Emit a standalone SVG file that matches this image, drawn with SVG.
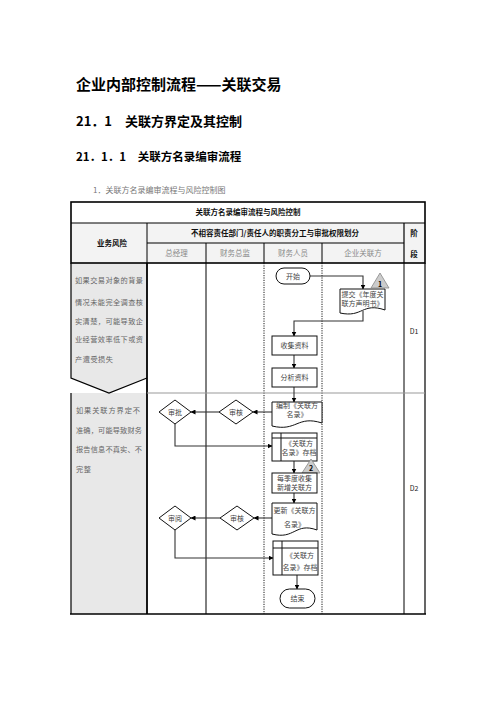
<svg xmlns="http://www.w3.org/2000/svg" width="496" height="702" viewBox="0 0 496 702">
<style>
text{font-family:"Noto Sans CJK SC","Liberation Sans",sans-serif;}
.h1{font-size:15px;font-weight:bold;fill:#000}
.h2{font-size:13px;font-weight:bold;fill:#000}
.h3{font-size:11.5px;font-weight:bold;fill:#000}
.cap{font-size:8px;fill:#777}
.th{font-size:7.5px;font-weight:bold;fill:#111;text-anchor:middle}
.tg{font-size:7.5px;fill:#888;text-anchor:middle}
.risk{font-size:7.2px;fill:#666}
.t{font-size:7px;fill:#444;text-anchor:middle}
.stage{font-size:7px;fill:#222;text-anchor:middle}
.box{fill:#fff;stroke:#111;stroke-width:1}
.dia{fill:#fff;stroke:#111;stroke-width:1}
.tri{fill:#ccc;stroke:#888;stroke-width:0.8}
.grid{stroke:#000;fill:none}
.conn{fill:none;stroke:#333;stroke-width:1.1}
</style>
<defs>
<marker id="ar" viewBox="0 0 10 10" refX="9" refY="5" markerWidth="5" markerHeight="5" orient="auto" markerUnits="userSpaceOnUse">
<path d="M0,0 L10,5 L0,10 Z" fill="#000"/>
</marker>
</defs>
<rect width="496" height="702" fill="#fff"/>

<g id="titles">
<text class="h1" x="76" y="90">企业内部控制流程——关联交易</text>
<text class="h2" x="76" y="126">21．1　关联方界定及其控制</text>
<text class="h3" x="76" y="161">21．1．1　关联方名录编审流程</text>
<text class="cap" x="93" y="193">1．关联方名录编审流程与风险控制图</text>
</g>

<g id="table">
<rect x="147" y="223" width="257" height="40" fill="#f3f3f3"/>
<rect x="71" y="223" width="76" height="40" fill="#f3f3f3"/>
<rect x="404" y="223" width="21" height="40" fill="#f3f3f3"/>
<polygon points="71,263 147,263 147,378 109,393 71,378" fill="#e8e8e8"/>
<rect x="71" y="393" width="76" height="221" fill="#e8e8e8"/>
<rect x="71" y="202" width="354" height="61" class="grid" stroke-width="1.6"/>
<line x1="71" y1="223" x2="425" y2="223" class="grid" stroke-width="1.2"/>
<line x1="147" y1="243" x2="404" y2="243" class="grid" stroke-width="1.2"/>
<line x1="147" y1="223" x2="147" y2="263" class="grid"/>
<line x1="404" y1="223" x2="404" y2="263" class="grid" stroke-width="1.2"/>
<line x1="206" y1="243" x2="206" y2="263" class="grid"/>
<line x1="264" y1="243" x2="264" y2="263" class="grid"/>
<line x1="322" y1="243" x2="322" y2="263" class="grid"/>
<polyline points="71,263 71,378 109,393 147,378" class="grid" stroke-width="1.2"/>
<line x1="71" y1="393" x2="71" y2="614" class="grid" stroke-width="1.2"/>
<line x1="147" y1="263" x2="147" y2="614" class="grid" stroke-width="1.8"/>
<line x1="206" y1="263" x2="206" y2="614" class="grid"/>
<line x1="264" y1="263" x2="264" y2="614" stroke="#000" stroke-width="0.9" stroke-dasharray="1.2,1.2"/>
<line x1="322" y1="263" x2="322" y2="614" stroke="#000" stroke-width="0.9" stroke-dasharray="1.2,1.2"/>
<line x1="404" y1="263" x2="404" y2="614" class="grid"/>
<line x1="425" y1="263" x2="425" y2="614" class="grid" stroke-width="1.2"/>
<line x1="147" y1="393" x2="425" y2="393" stroke="#999" stroke-width="1"/>
<line x1="70" y1="614" x2="426" y2="614" class="grid" stroke-width="1.4"/>
<text class="th" x="248" y="215">关联方名录编审流程与风险控制</text>
<text class="th" x="275" y="236">不相容责任部门/责任人的职责分工与审批权限划分</text>
<text class="th" x="112" y="246">业务风险</text>
<text class="th" x="414" y="236">阶</text>
<text class="th" x="414" y="257">段</text>
<text class="tg" x="176.5" y="256">总经理</text>
<text class="tg" x="235" y="256">财务总监</text>
<text class="tg" x="293" y="256">财务人员</text>
<text class="tg" x="363" y="256">企业关联方</text>
<text class="risk" x="75" y="283" textLength="68">如果交易对象的背景</text>
<text class="risk" x="75" y="305" textLength="68">情况未能完全调查核</text>
<text class="risk" x="75" y="323.5" textLength="68">实清楚，可能导致企</text>
<text class="risk" x="75" y="342" textLength="68">业经营效率低下或资</text>
<text class="risk" x="75" y="362" textLength="38">产遭受损失</text>
<text class="risk" x="76" y="413" textLength="64">如果关联方界定不</text>
<text class="risk" x="76" y="433" textLength="66">准确，可能导致财务</text>
<text class="risk" x="76" y="452" textLength="66">报告信息不真实、不</text>
<text class="risk" x="76" y="472" textLength="15">完整</text>
<text class="stage" x="414" y="334">D1</text>
<text class="stage" x="414" y="491">D2</text>
</g>

<g id="connectors" marker-end="url(#ar)">
<path class="conn" d="M310,276 H363 V289" marker-end="url(#ar)"/>
<path class="conn" d="M363,311 V321 H294 V336" marker-end="url(#ar)"/>
<path class="conn" d="M294,355 V368" marker-end="url(#ar)"/>
<path class="conn" d="M294,387 V402" marker-end="url(#ar)"/>
<path class="conn" d="M272,412 H253" marker-end="url(#ar)"/>
<path class="conn" d="M219,412 H191" marker-end="url(#ar)"/>
<path class="conn" d="M175,424 V446 H272" stroke="#555" stroke-width="1.4" marker-end="url(#ar)"/>
<path class="conn" d="M294,461 V473" marker-end="url(#ar)"/>
<path class="conn" d="M294,493 V503" marker-end="url(#ar)"/>
<path class="conn" d="M272,518 H254" marker-end="url(#ar)"/>
<path class="conn" d="M220,518 H191" marker-end="url(#ar)"/>
<path class="conn" d="M175,530 V558 H273" stroke="#555" stroke-width="1.4" marker-end="url(#ar)"/>
<path class="conn" d="M297,575 V589" marker-end="url(#ar)"/>
</g>

<g id="start">
<rect class="box" x="276" y="268" width="34" height="16" rx="8"/>
<text class="t" x="293" y="278.5">开始</text>
</g>
<g id="submit">
<path class="box" d="M340,289 H385 V310 C362,302 363,318 340,313 Z"/>
<text class="t" x="362.5" y="296.5">提交《年度关</text>
<text class="t" x="362.5" y="306">联方声明书》</text>
</g>
<g id="risk1">
<polygon class="tri" points="380,273 371,288 389,288"/>
<text x="380" y="286.5" style="font-size:7px;font-weight:bold;fill:#000;text-anchor:middle">1</text>
</g>
<g id="collect">
<rect class="box" x="272" y="336" width="45" height="19"/>
<text class="t" x="294.5" y="348">收集资料</text>
</g>
<g id="analyze">
<rect class="box" x="272" y="368" width="45" height="19"/>
<text class="t" x="294.5" y="380">分析资料</text>
</g>
<g id="compile">
<path class="box" d="M272,402 H322 V423 C297,415 297,432 272,426 Z"/>
<text class="t" x="297" y="408">编制《关联方</text>
<text class="t" x="297" y="417">名录》</text>
</g>
<g id="review1">
<polygon class="dia" points="236,400 253,412 236,424 219,412"/>
<text class="t" x="236" y="414.5">审核</text>
</g>
<g id="approve">
<polygon class="dia" points="175,400 191,412 175,424 159,412"/>
<text class="t" x="175" y="414.5">审批</text>
</g>
<g id="archive1">
<rect class="box" x="272" y="433" width="45" height="28"/>
<line x1="281" y1="433" x2="281" y2="461" stroke="#111"/>
<line x1="272" y1="438" x2="317" y2="438" stroke="#111"/>
<text class="t" x="299" y="446">《关联方</text>
<text class="t" x="299" y="455">名录》存档</text>
</g>
<g id="risk2">
<polygon class="tri" points="311,459 302,473 320,473"/>
<text x="311" y="471" style="font-size:7px;font-weight:bold;fill:#000;text-anchor:middle">2</text>
</g>
<g id="quarterly">
<rect class="box" x="272" y="473" width="45" height="20"/>
<text class="t" x="294.5" y="480.5">每季度收集</text>
<text class="t" x="294.5" y="490">新增关联方</text>
</g>
<g id="update">
<path class="box" d="M272,503 H317 V530 C295,522 295,540 272,534 Z"/>
<text class="t" x="294.5" y="512.5">更新《关联方</text>
<text class="t" x="294.5" y="526.5">名录》</text>
</g>
<g id="review2">
<polygon class="dia" points="237,506 254,518 237,530 220,518"/>
<text class="t" x="237" y="520.5">审核</text>
</g>
<g id="read">
<polygon class="dia" points="175,506 191,518 175,530 159,518"/>
<text class="t" x="175" y="520.5">审阅</text>
</g>
<g id="archive2">
<rect class="box" x="273" y="541" width="45" height="34"/>
<line x1="282" y1="541" x2="282" y2="575" stroke="#111"/>
<line x1="273" y1="548" x2="318" y2="548" stroke="#111"/>
<text class="t" x="300" y="557.5">《关联方</text>
<text class="t" x="300" y="569.5">名录》存档</text>
</g>
<g id="end">
<rect class="box" x="280" y="589" width="35" height="19" rx="9.5"/>
<text class="t" x="297.5" y="601">结束</text>
</g>
</svg>
